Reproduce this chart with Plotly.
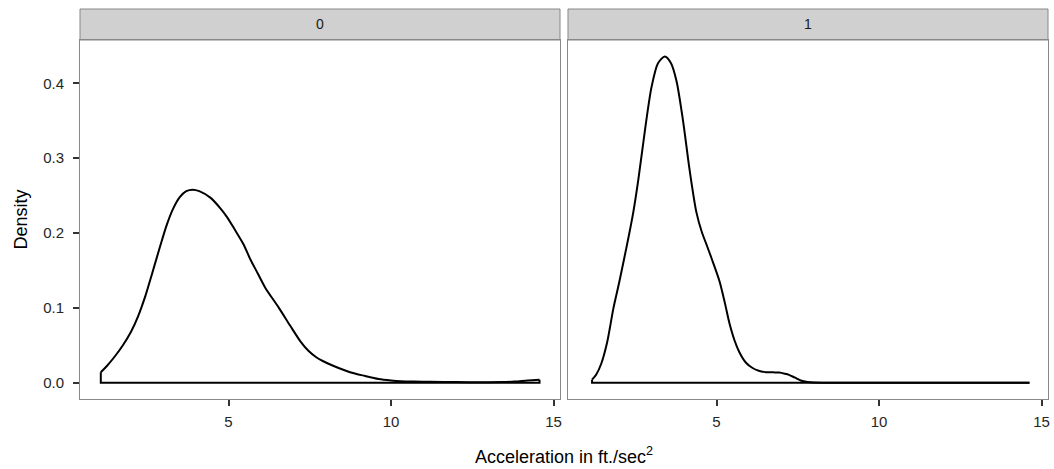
import plotly.graph_objects as go

# ---- data ----
panels = ["0", "1"]

x0 = [1.07, 1.25, 1.5, 1.75, 2.0, 2.22, 2.45, 2.65, 2.9, 3.1, 3.3, 3.5, 3.7, 3.9, 4.1,
      4.45, 4.75, 4.96, 5.2, 5.46, 5.67, 5.9, 6.13, 6.55, 6.9, 7.2, 7.45, 7.7, 7.9, 8.2,
      8.74, 9.2, 9.62, 10.0, 10.3, 10.7, 11.2, 12.0, 12.8, 13.4, 13.8, 14.2, 14.57]
d0 = [0.014, 0.022, 0.035, 0.05, 0.068, 0.089, 0.117, 0.146, 0.183, 0.211, 0.233, 0.248,
      0.256, 0.258, 0.256, 0.247, 0.233, 0.221, 0.204, 0.185, 0.165, 0.146, 0.127, 0.100,
      0.076, 0.056, 0.043, 0.034, 0.029, 0.023, 0.014, 0.009, 0.005, 0.003, 0.002, 0.0015,
      0.0012, 0.0008, 0.0006, 0.0008, 0.0015, 0.003, 0.004]

x1 = [1.17, 1.3, 1.45, 1.63, 1.83, 2.0, 2.14, 2.3, 2.44, 2.59, 2.8, 3.0, 3.2, 3.41, 3.6,
      3.77, 3.97, 4.17, 4.38, 4.55, 4.68, 4.85, 5.09, 5.25, 5.4, 5.55, 5.7, 5.9, 6.11, 6.3,
      6.52, 6.75, 6.93, 7.1, 7.23, 7.4, 7.59, 7.8, 8.0, 9.0, 10.0, 11.0, 12.0, 13.0, 14.63]
d1 = [0.004, 0.011, 0.025, 0.053, 0.1, 0.133, 0.162, 0.196, 0.228, 0.27, 0.338, 0.395,
      0.427, 0.436, 0.427, 0.403, 0.35, 0.285, 0.228, 0.201, 0.186, 0.166, 0.136, 0.108,
      0.079, 0.057, 0.041, 0.027, 0.0196, 0.016, 0.014, 0.0138, 0.0135, 0.012, 0.0105, 0.007,
      0.003, 0.001, 0.0003, 0.0, 0.0, 0.0, 0.0, 0.0, 0.0]

x_ticks = [5, 10, 15]
y_ticks = [0.0, 0.1, 0.2, 0.3, 0.4]
x_title = "Acceleration in ft./sec<sup>2</sup>"
y_title = "Density"

# ---- figure ----
W, H = 1054, 469
ml, mr, mt, mb = 80, 4, 40, 70
pw = W - ml - mr
ph = H - mt - mb
left_dom = [0, 481 / pw]
right_dom = [489 / pw, 1]
xr = [0.43, 15.2]
yr = [-0.0218, 0.458]
FONT = "Liberation Sans, Arial, sans-serif"

fig = go.Figure()
series = [(x0, d0, "x", "y"), (x1, d1, "x2", "y2")]
for xs, ds, xa, ya in series:
    fig.add_trace(go.Scatter(x=xs, y=ds, mode="lines", xaxis=xa, yaxis=ya,
                             line=dict(color="black", width=2, shape="spline", smoothing=0.8),
                             showlegend=False, hoverinfo="skip"))
    fig.add_trace(go.Scatter(x=[xs[-1], xs[-1], xs[0], xs[0]], y=[ds[-1], 0, 0, ds[0]],
                             mode="lines", xaxis=xa, yaxis=ya,
                             line=dict(color="black", width=2),
                             showlegend=False, hoverinfo="skip"))

tickfont = dict(family=FONT, size=15, color="#262626")
axcommon = dict(showgrid=False, zeroline=False, showline=True, linecolor="#888888",
                linewidth=1, mirror=True, ticklen=6, tickcolor="#333333",
                tickwidth=1.5, tickfont=tickfont)

fig.update_layout(
    width=W, height=H, margin=dict(l=ml, r=mr, t=mt, b=mb),
    paper_bgcolor="white", plot_bgcolor="white",
    xaxis=dict(domain=left_dom, range=xr, tickvals=x_ticks, anchor="y", ticks="outside",
               ticklabelstandoff=3, **axcommon),
    xaxis2=dict(domain=right_dom, range=xr, tickvals=x_ticks, anchor="y2", ticks="outside",
                ticklabelstandoff=3, **axcommon),
    yaxis=dict(domain=[0, 1], range=yr, tickvals=y_ticks, tickformat=".1f", anchor="x",
               ticks="outside", ticklabelstandoff=6, **axcommon),
    yaxis2=dict(domain=[0, 1], range=yr, tickvals=y_ticks, showticklabels=False, ticks="",
                anchor="x2", **axcommon),
)

strip_h = 31 / ph
for dom, lab in zip([left_dom, right_dom], panels):
    fig.add_shape(type="rect", xref="paper", yref="paper", x0=dom[0], x1=dom[1],
                  y0=1, y1=1 + strip_h, fillcolor="#D0D0D0",
                  line=dict(color="#888888", width=1), layer="below")
    fig.add_annotation(x=(dom[0] + dom[1]) / 2, y=1 + strip_h / 2, xref="paper", yref="paper",
                       text=lab, showarrow=False, xanchor="center", yanchor="middle",
                       font=dict(family=FONT, size=14, color="#1a1a1a"))

fig.add_annotation(x=0.5, y=-56 / ph, xref="paper", yref="paper", text=x_title, showarrow=False,
                   yanchor="middle", xanchor="center",
                   font=dict(family=FONT, size=18, color="black"))
fig.add_annotation(x=-60 / pw, y=0.5, xref="paper", yref="paper", text=y_title, showarrow=False,
                   textangle=-90, xanchor="center", yanchor="middle",
                   font=dict(family=FONT, size=18, color="black"))

fig.write_html("out.html")
